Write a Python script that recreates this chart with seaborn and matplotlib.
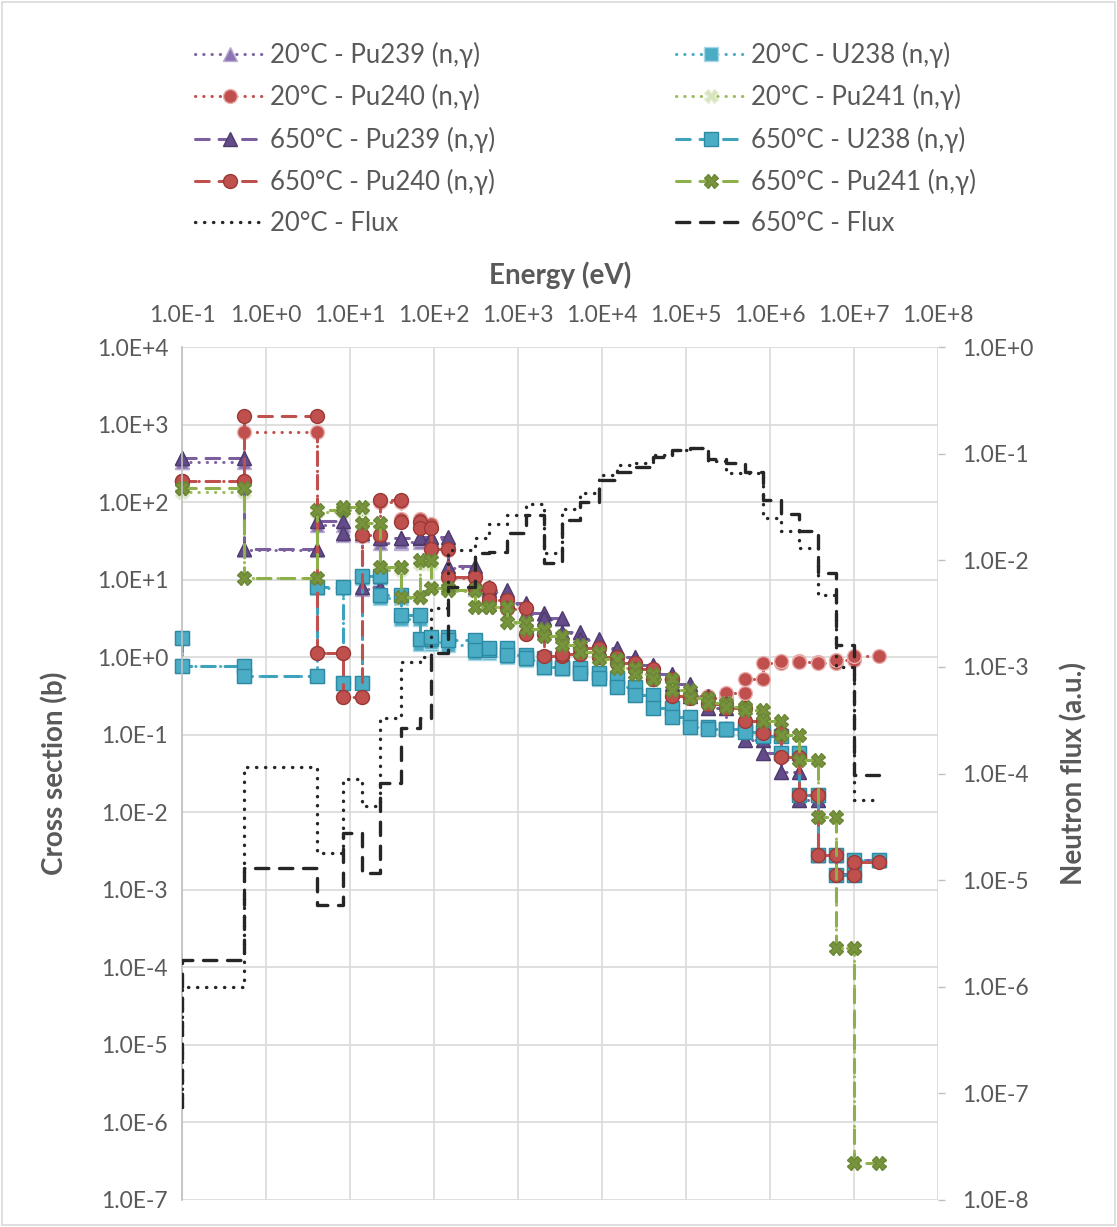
import numpy as np
import matplotlib
matplotlib.use('Agg')
import matplotlib.pyplot as plt
import seaborn as sns
from matplotlib.ticker import FuncFormatter, NullLocator
from matplotlib.patches import Rectangle

# group boundaries (eV), 33-group structure, shown from 0.1 eV upwards
energy = [0.1, 0.54, 4.0, 8.315, 13.71, 22.60, 40.17, 67.90, 91.66, 148.6,
          304.3, 454.0, 748.5, 1234.1, 2034.7, 3354.6, 5530.8, 9118.8, 15034.0,
          24788.0, 40868.0, 67379.0, 111090.0, 183160.0, 301970.0, 497870.0,
          820850.0, 1.3534e6, 2.2313e6, 3.6788e6, 6.0653e6, 1.0e7, 1.9640e7]

# group values, low -> high energy; first value is the group below 0.1 eV
pu239_20 = [330, 330, 24, 50, 38, 7.5, 30, 31, 33, 33, 14, 7.6, 7.0, 4.8, 3.6, 3.1, 2.05, 1.65,
            1.28, 1.0, 0.8, 0.6, 0.45, 0.32, 0.22, 0.12, 0.085, 0.058, 0.033, 0.0145, 2.8e-3, 1.6e-3, 2.4e-3]
pu239_650 = [370, 370, 25, 57, 40, 8.0, 34, 34, 35, 35, 15, 8.0, 7.3, 5.0, 3.7, 3.2, 2.1, 1.7,
             1.3, 1.0, 0.8, 0.6, 0.45, 0.32, 0.22, 0.12, 0.085, 0.058, 0.033, 0.0145, 2.8e-3, 1.6e-3, 2.4e-3]
u238_20 = [1.75, 0.78, 0.57, 7.8, 0.46, 10.5, 5.8, 3.1, 1.5, 1.55, 1.45, 1.12, 1.2, 1.0, 0.93, 0.72, 0.70,
           0.62, 0.53, 0.41, 0.33, 0.22, 0.17, 0.125, 0.12, 0.12, 0.11, 0.095, 0.058, 0.0167, 2.8e-3, 1.55e-3, 2.4e-3]
u238_650 = [1.75, 0.78, 0.57, 8.1, 0.46, 11, 6.3, 3.5, 1.7, 1.8, 1.67, 1.24, 1.31, 1.07, 0.98, 0.75, 0.72,
            0.63, 0.54, 0.41, 0.33, 0.22, 0.17, 0.125, 0.12, 0.12, 0.11, 0.095, 0.058, 0.0167, 2.8e-3, 1.55e-3, 2.4e-3]
pu240_20 = [185, 185, 800, 1.13, 0.31, 36, 100, 60, 52, 24, 10.5, 7.6, 5.4, 4.2, 2.0, 1.05, 1.1, 1.3,
            1.0, 0.85, 0.7, 0.52, 0.34, 0.32, 0.3, 0.35, 0.52, 0.84, 0.9, 0.87, 0.85, 0.92, 1.05]
pu240_650 = [185, 185, 1300, 1.13, 0.31, 38, 107, 56, 47, 25, 10.8, 7.8, 5.5, 4.3, 2.0, 1.05, 1.1, 1.3,
             1.0, 0.85, 0.7, 0.52, 0.32, 0.3, 0.25, 0.22, 0.15, 0.105, 0.051, 0.0167, 2.8e-3, 1.55e-3, 2.3e-3]
pu241_20 = [135, 135, 10.5, 75, 80, 50, 13.5, 5.8, 16, 7.5, 7.1, 4.4, 4.4, 2.8, 2.25, 1.85, 1.44, 1.18,
            0.95, 0.73, 0.6, 0.52, 0.38, 0.30, 0.26, 0.23, 0.21, 0.15, 0.10, 0.047, 8.7e-3, 1.8e-4, 3.0e-7]
pu241_650 = [150, 150, 10.5, 80, 86, 54, 14.6, 6.0, 18, 7.9, 7.4, 4.5, 4.5, 2.85, 2.3, 1.85, 1.44, 1.18,
             0.95, 0.73, 0.6, 0.52, 0.38, 0.30, 0.26, 0.23, 0.21, 0.15, 0.10, 0.047, 8.7e-3, 1.8e-4, 3.0e-7]
flux_20 = [7.5e-8, 1.0e-6, 1.15e-4, 1.8e-5, 8.9e-5, 5.0e-5, 3.3e-4, 1.1e-3, 1.25e-3, 3.6e-3, 1.25e-2,
           1.6e-2, 2.2e-2, 2.65e-2, 3.4e-2, 1.17e-2, 3.0e-2, 4.3e-2, 6.3e-2, 7.8e-2, 8.2e-2, 9.7e-2,
           0.108, 0.113, 0.085, 0.066, 0.066, 0.025, 0.019, 0.013, 4.7e-3, 1.0e-3, 5.6e-5]
flux_650 = [7.5e-8, 1.8e-6, 1.3e-5, 5.9e-6, 2.75e-5, 1.17e-5, 8.1e-5, 2.7e-4, 3.3e-4, 1.35e-3, 5.6e-3,
            1.17e-2, 1.2e-2, 1.8e-2, 2.65e-2, 9.4e-3, 2.4e-2, 3.5e-2, 5.6e-2, 6.7e-2, 7.5e-2, 9.3e-2,
            0.108, 0.113, 0.09, 0.082, 0.067, 0.037, 0.027, 0.019, 7.6e-3, 1.6e-3, 9.7e-5]

x_ticks = [1e-1, 1e0, 1e1, 1e2, 1e3, 1e4, 1e5, 1e6, 1e7, 1e8]
xs_ticks = [1e-7, 1e-6, 1e-5, 1e-4, 1e-3, 1e-2, 1e-1, 1e0, 1e1, 1e2, 1e3, 1e4]
flux_ticks = [1e-8, 1e-7, 1e-6, 1e-5, 1e-4, 1e-3, 1e-2, 1e-1, 1e0]


def steps(vals):
    x = [energy[0]]
    y = [vals[0]]
    for i in range(len(energy) - 1):
        x += [energy[i], energy[i + 1]]
        y += [vals[i + 1], vals[i + 1]]
    return x, y


sns.set_style('white')
plt.rcParams['font.family'] = ['Lato', 'DejaVu Sans']
grey = '#595959'

fig = plt.figure(figsize=(11.17, 12.27), dpi=100)
fig.patches.append(Rectangle((0.002, 0.002), 0.996, 0.996, transform=fig.transFigure,
                             fill=False, edgecolor='#D9D9D9', linewidth=1.2))
ax = fig.add_axes([182 / 1117, 1 - 1200 / 1227, (938 - 182) / 1117, (1200 - 347) / 1227])
ax.set_xscale('log')
ax.set_yscale('log')

dot = (0, (0.1, 2.6))
dash = (0, (4.5, 3.2))

series = [
    ('20°C - Pu239 (n,γ)', pu239_20, '#8064A2', dot, '^', '#8D74B3', '#BBAED3'),
    ('20°C - U238 (n,γ)', u238_20, '#4BACC6', dot, 's', '#4BACC6', '#A9D8E5'),
    ('20°C - Pu240 (n,γ)', pu240_20, '#C0504D', dot, 'o', '#C0504D', '#E8B0AE'),
    ('20°C - Pu241 (n,γ)', pu241_20, '#9BBB59', dot, 'X', '#D7E4BD', '#E6EED6'),
    ('650°C - Pu239 (n,γ)', pu239_650, '#7A5E9E', dash, '^', '#644C8A', '#4E3B6E'),
    ('650°C - U238 (n,γ)', u238_650, '#3FA2BC', dash, 's', '#4BACC6', '#2E89A2'),
    ('650°C - Pu240 (n,γ)', pu240_650, '#C0504D', dash, 'o', '#C0504D', '#9A3A37'),
    ('650°C - Pu241 (n,γ)', pu241_650, '#8DB04A', dash, 'X', '#77933C', '#6B8636'),
]

handles = {}
for label, vals, col, ls, mk, mfc, mec in series:
    xs, ys = steps(vals)
    sns.lineplot(x=xs, y=ys, ax=ax, sort=False, estimator=None, legend=False,
                 color=col, linestyle=ls, linewidth=2.2, dash_capstyle='round',
                 marker=mk, markersize=10, markerfacecolor=mfc, markeredgecolor=mec,
                 markeredgewidth=1.0, clip_on=False)
    handles[label] = ax.lines[-1]

ax2 = ax.twinx()
ax2.set_yscale('log')
for label, vals, ls in [('20°C - Flux', flux_20, dot), ('650°C - Flux', flux_650, (0, (4.0, 3.2)))]:
    xs, ys = steps(vals)
    sns.lineplot(x=xs, y=ys, ax=ax2, sort=False, estimator=None, legend=False,
                 color='#262626', linestyle=ls, linewidth=2.4, dash_capstyle='round')
    handles[label] = ax2.lines[-1]

ax.set_xlim(0.1, 1e8)
ax.set_ylim(1e-7, 1e4)
ax2.set_ylim(1e-8, 1)
ax.set_xticks(x_ticks)
ax.set_yticks(xs_ticks)
ax2.set_yticks(flux_ticks)

sci = FuncFormatter(lambda v, p: '1.0E{:+d}'.format(int(round(np.log10(v)))))
for a in (ax.xaxis, ax.yaxis, ax2.yaxis):
    a.set_minor_locator(NullLocator())
    a.set_major_formatter(sci)

ax.xaxis.tick_top()
ax.xaxis.set_label_position('top')
ax.tick_params(axis='x', length=0, pad=15, labelsize=16.5, colors=grey)
ax.tick_params(axis='y', length=0, pad=10, labelsize=16.5, colors=grey)
ax2.tick_params(axis='y', length=5, width=1, pad=12, labelsize=16.5, colors=grey)
ax2.tick_params(axis='y', color='#BFBFBF')

ax.grid(True, which='major', color='#D9D9D9', linewidth=1.2)
ax.set_axisbelow(True)
for s in ['top', 'right', 'bottom']:
    ax.spines[s].set_visible(False)
    ax2.spines[s].set_visible(False)
ax.spines['left'].set_color('#BFBFBF')
ax.spines['left'].set_linewidth(1.2)
ax2.spines['left'].set_visible(False)

ax.set_xlabel('Energy (eV)', fontsize=20, fontweight='bold', color=grey, labelpad=15)
ax.set_ylabel('Cross section (b)', fontsize=20, fontweight='bold', color=grey, labelpad=20)
ax2.set_ylabel('Neutron flux (a.u.)', fontsize=20, fontweight='bold', color=grey, labelpad=20)

col1 = ['20°C - Pu239 (n,γ)', '20°C - Pu240 (n,γ)', '650°C - Pu239 (n,γ)', '650°C - Pu240 (n,γ)', '20°C - Flux']
col2 = ['20°C - U238 (n,γ)', '20°C - Pu241 (n,γ)', '650°C - U238 (n,γ)', '650°C - Pu241 (n,γ)', '650°C - Flux']
for cols, x0 in [(col1, 195 / 1117), (col2, 676 / 1117)]:
    leg = fig.legend([handles[c] for c in cols], cols, loc='upper left',
                     bbox_to_anchor=(x0, 1 - 42 / 1227), frameon=False, fontsize=18.5,
                     handlelength=2.72, handletextpad=0.2, labelspacing=0.63,
                     borderpad=0, borderaxespad=0, numpoints=1)
    for t in leg.get_texts():
        t.set_color(grey)

fig.savefig('out.png', dpi=100)
